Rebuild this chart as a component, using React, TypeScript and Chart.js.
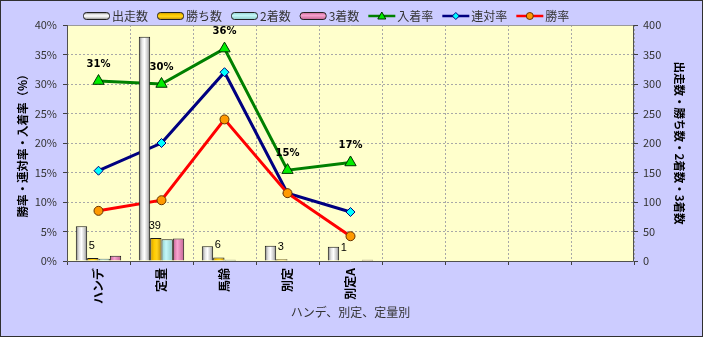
import React, { useEffect, useRef } from 'react';
import { Chart, registerables } from 'chart.js';
Chart.register(...registerables);

const categories = ['ハンデ', '定量', '馬齢', '別定', '別定A', '', '', '', ''];
const starts = [59, 380, 25, 26, 24];
const wins = [5, 39, 6, 3, 1];
const seconds = [4, 37, 2, 0, 1];
const thirds = [9, 38, 1, 1, 2];
const winRate = [8.5, 10.3, 24.0, 11.5, 4.2];
const rentaiRate = [15.3, 20.0, 32.0, 11.5, 8.3];
const placeRate = [30.5, 30.0, 36.0, 15.4, 16.7];

const FONT = "'Noto Sans CJK JP', 'Noto Sans', sans-serif";

type Stops = [number, string][];
const whiteStops: Stops = [[0, '#7a7a7a'], [0.28, '#e4e4e4'], [0.5, '#ffffff'], [0.75, '#cfcfcf'], [1, '#858585']];
const yellowStops: Stops = [[0, '#c89400'], [0.35, '#ffcc00'], [0.6, '#ffd21a'], [1, '#c49000']];
const cyanStops: Stops = [[0, '#8ccccc'], [0.4, '#c4f8f8'], [1, '#90cccc']];
const pinkStops: Stops = [[0, '#c46090'], [0.4, '#f8a4d0'], [1, '#c46494']];

function makeBg(stops: Stops, fallback: string) {
  return (ctx: any) => {
    const el = ctx.element;
    if (!el || typeof el.x !== 'number' || !isFinite(el.x) || !el.width) return fallback;
    const g = ctx.chart.ctx.createLinearGradient(el.x - el.width / 2, 0, el.x + el.width / 2, 0);
    stops.forEach(([o, c]) => g.addColorStop(o, c));
    return g;
  };
}

const legendItems = [
  { kind: 'bar', text: '出走数', stops: whiteStops },
  { kind: 'bar', text: '勝ち数', stops: yellowStops },
  { kind: 'bar', text: '2着数', stops: cyanStops },
  { kind: 'bar', text: '3着数', stops: pinkStops },
  { kind: 'line', text: '入着率', line: '#008000', marker: 'triangle', fill: '#00ee00', stroke: '#003300' },
  { kind: 'line', text: '連対率', line: '#000080', marker: 'diamond', fill: '#00ffff', stroke: '#000080' },
  { kind: 'line', text: '勝率', line: '#ff0000', marker: 'circle', fill: '#ff9900', stroke: '#663300' },
];

const bgPlugin = {
  id: 'bgPlugin',
  beforeDraw(chart: any) {
    const { ctx, chartArea: a, width, height } = chart;
    ctx.save();
    ctx.fillStyle = '#ccccff';
    ctx.fillRect(0, 0, width, height);
    ctx.fillStyle = '#ffffcc';
    ctx.fillRect(a.left, a.top, a.right - a.left, a.bottom - a.top);
    ctx.restore();
  },
  afterDatasetsDraw(chart: any) {
    const { ctx, chartArea: a } = chart;
    ctx.save();
    ctx.lineWidth = 1;
    ctx.strokeStyle = '#9a9a9a';
    ctx.beginPath();
    ctx.moveTo(a.left, a.top + 0.5);
    ctx.lineTo(a.right, a.top + 0.5);
    ctx.stroke();
    ctx.strokeStyle = '#505050';
    ctx.beginPath();
    ctx.moveTo(a.left + 0.5, a.top);
    ctx.lineTo(a.left + 0.5, a.bottom + 0.5);
    ctx.lineTo(a.right - 0.5, a.bottom + 0.5);
    ctx.lineTo(a.right - 0.5, a.top);
    ctx.stroke();

    // data labels
    ctx.fillStyle = '#000';
    ctx.textAlign = 'center';
    ctx.textBaseline = 'middle';
    ctx.font = `bold 10px 'DejaVu Sans', sans-serif`;
    const pMeta = chart.getDatasetMeta(4);
    pMeta.data.forEach((pt: any, i: number) => {
      if (placeRate[i] == null) return;
      ctx.fillText(Math.round(placeRate[i]) + '%', pt.x, pt.y - 17);
    });
    ctx.font = `11px 'Liberation Sans', sans-serif`;
    const wMeta = chart.getDatasetMeta(1);
    wMeta.data.forEach((b: any, i: number) => {
      if (wins[i] == null) return;
      ctx.fillText(String(wins[i]), b.x - 1, b.y - 12);
    });

    ctx.strokeStyle = '#303030';
    ctx.strokeRect(0.5, 0.5, chart.width - 1, chart.height - 1);
    ctx.restore();
  },
  afterDraw(chart: any) {
    const { ctx } = chart;
    ctx.save();
    ctx.font = `12px ${FONT}`;
    ctx.textBaseline = 'middle';
    ctx.textAlign = 'left';
    let x = 83;
    const cy = 16;
    const sw = 27;
    legendItems.forEach((it: any) => {
      if (it.kind === 'bar') {
        const g = ctx.createLinearGradient(0, cy - 3.5, 0, cy + 3.5);
        it.stops.forEach(([o, c]: [number, string]) => g.addColorStop(o, c));
        ctx.fillStyle = g;
        ctx.strokeStyle = '#222';
        ctx.lineWidth = 1;
        ctx.beginPath();
        (ctx as any).roundRect ? (ctx as any).roundRect(x + 0.5, cy - 3.5, sw - 1, 7, 3) : ctx.rect(x + 0.5, cy - 3.5, sw - 1, 7);
        ctx.fill();
        ctx.stroke();
      } else {
        ctx.strokeStyle = it.line;
        ctx.lineWidth = 2.5;
        ctx.beginPath();
        ctx.moveTo(x, cy);
        ctx.lineTo(x + sw, cy);
        ctx.stroke();
        const mx = x + sw / 2;
        ctx.fillStyle = it.fill;
        ctx.strokeStyle = it.stroke;
        ctx.lineWidth = 1;
        ctx.beginPath();
        if (it.marker === 'triangle') {
          ctx.moveTo(mx, cy - 4);
          ctx.lineTo(mx + 4, cy + 3);
          ctx.lineTo(mx - 4, cy + 3);
          ctx.closePath();
        } else if (it.marker === 'diamond') {
          ctx.moveTo(mx, cy - 3.5);
          ctx.lineTo(mx + 3.5, cy);
          ctx.lineTo(mx, cy + 3.5);
          ctx.lineTo(mx - 3.5, cy);
          ctx.closePath();
        } else {
          ctx.arc(mx, cy, 3.5, 0, Math.PI * 2);
        }
        ctx.fill();
        ctx.stroke();
      }
      ctx.fillStyle = '#333';
      ctx.fillText(it.text, x + sw + 2, cy);
      x += sw + 2 + ctx.measureText(it.text).width + 9;
    });
    ctx.restore();
  },
};

export default function App() {
  const ref = useRef<HTMLCanvasElement | null>(null);
  useEffect(() => {
    if (!ref.current) return;
    Chart.defaults.font.family = FONT;
    const gridCommon = {
      color: '#a8a8a8',
      lineWidth: 1,
      borderDash: [2, 2],
      tickColor: '#404040',
      tickLength: 4,
      tickBorderDash: [],
    };
    const barCommon = {
      type: 'bar' as const,
      yAxisID: 'y1',
      order: 0,
      borderColor: '#1a1a1a',
      borderWidth: 1,
      borderSkipped: 'start' as const,
      categoryPercentage: 0.72,
      barPercentage: 1,
    };
    const chart = new Chart(ref.current, {
      data: {
        labels: categories,
        datasets: [
          { ...barCommon, label: '出走数', data: starts, backgroundColor: makeBg(whiteStops, '#e0e0e0') },
          { ...barCommon, label: '勝ち数', data: wins, backgroundColor: makeBg(yellowStops, '#ffcc00') },
          { ...barCommon, label: '2着数', data: seconds, backgroundColor: makeBg(cyanStops, '#bbf0f0') },
          { ...barCommon, label: '3着数', data: thirds, backgroundColor: makeBg(pinkStops, '#f0a0c8') },
          {
            type: 'line', label: '入着率', data: placeRate, yAxisID: 'y', order: 3,
            borderColor: '#008000', borderWidth: 3, tension: 0,
            pointStyle: 'triangle', pointRadius: 6.5, pointBackgroundColor: '#00ee00',
            pointBorderColor: '#003300', pointBorderWidth: 1,
          },
          {
            type: 'line', label: '連対率', data: rentaiRate, yAxisID: 'y', order: 2,
            borderColor: '#000080', borderWidth: 3, tension: 0,
            pointStyle: 'rectRot', pointRadius: 4.5, pointBackgroundColor: '#00ffff',
            pointBorderColor: '#000080', pointBorderWidth: 1,
          },
          {
            type: 'line', label: '勝率', data: winRate, yAxisID: 'y', order: 1,
            borderColor: '#ff0000', borderWidth: 3, tension: 0,
            pointStyle: 'circle', pointRadius: 4.5, pointBackgroundColor: '#ff9900',
            pointBorderColor: '#663300', pointBorderWidth: 1,
          },
        ] as any,
      },
      options: {
        responsive: false,
        animation: false,
        layout: { padding: { top: 25, left: 0, right: 0, bottom: 0 } },
        plugins: { legend: { display: false }, tooltip: { enabled: false } },
        scales: {
          x: {
            type: 'category',
            offset: true,
            grid: { ...gridCommon, offset: true },
            border: { display: false, dash: [2, 2] },
            ticks: {
              autoSkip: false, minRotation: 90, maxRotation: 90, padding: 3,
              color: '#000', font: { size: 12, weight: 'bold' },
            },
            title: {
              display: true, text: 'ハンデ、別定、定量別', color: '#333',
              font: { size: 12 }, padding: { top: 0, bottom: 17 },
            },
            afterFit: (s: any) => { s.height = 76; },
          },
          y: {
            position: 'left', min: 0, max: 40,
            grid: gridCommon,
            border: { display: false, dash: [2, 2] },
            ticks: { stepSize: 5, padding: 6, color: '#333', font: { size: 11 }, callback: (v: any) => v + '%' },
            title: {
              display: true, text: '勝率・連対率・入着率（%）', color: '#000',
              font: { size: 11.5, weight: 'bold' }, padding: { top: 16, bottom: 0 },
            },
            afterFit: (s: any) => { s.width = 67; },
          },
          y1: {
            position: 'right', min: 0, max: 400,
            grid: { ...gridCommon, drawOnChartArea: false },
            border: { display: false },
            ticks: { stepSize: 50, padding: 5, color: '#333', font: { size: 11 } },
            title: {
              display: true, text: '出走数・勝ち数・2着数・3着数', color: '#000',
              font: { size: 11.5, weight: 'bold' }, padding: { top: 17, bottom: 0 },
            },
            afterFit: (s: any) => { s.width = 69; },
          },
        } as any,
      },
      plugins: [bgPlugin],
    } as any);
    chart.update();
    return () => chart.destroy();
  }, []);
  return (
    <div style={{ position: 'absolute', left: 0, top: 0, width: 703, height: 337 }}>
      <canvas ref={ref} width={703} height={337} style={{ display: 'block' }} />
    </div>
  );
}
